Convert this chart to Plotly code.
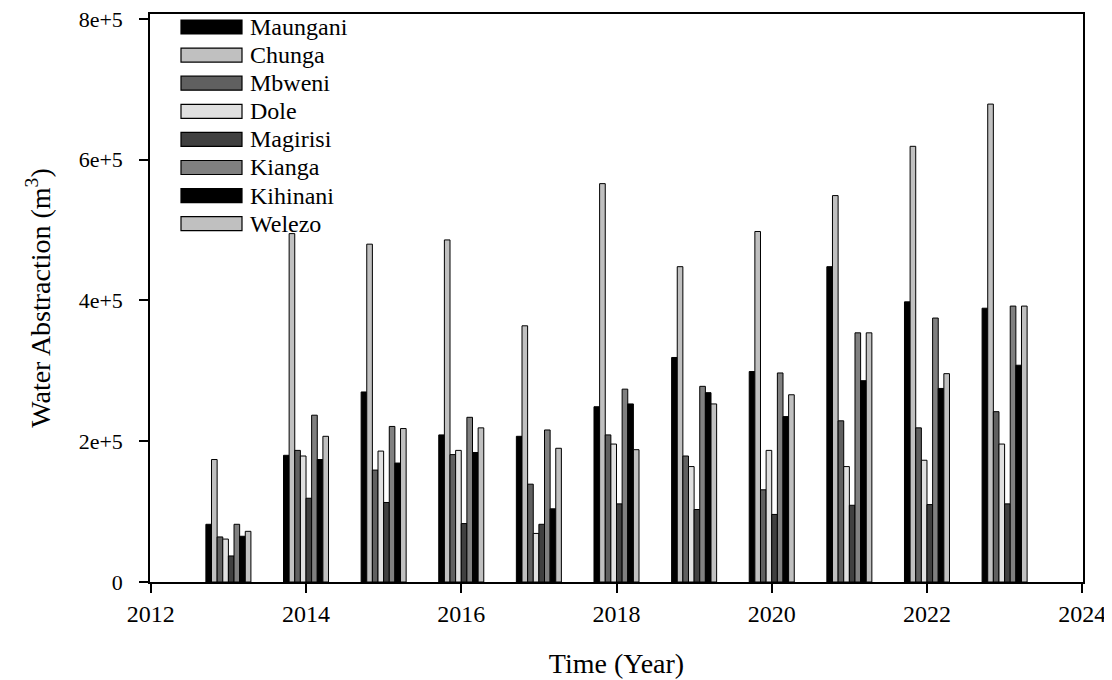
import plotly.graph_objects as go

years = [2013, 2014, 2015, 2016, 2017, 2018, 2019, 2020, 2021, 2022, 2023]
series_names = ["Maungani", "Chunga", "Mbweni", "Dole", "Magirisi", "Kianga", "Kihinani", "Welezo"]
maungani = [82000, 180000, 270000, 209000, 207000, 249000, 319000, 299000, 448000, 398000, 389000]
chunga = [174000, 495000, 480000, 486000, 364000, 566000, 448000, 498000, 549000, 619000, 679000]
mbweni = [64000, 187000, 159000, 181000, 139000, 209000, 179000, 131000, 229000, 219000, 242000]
dole = [61000, 179000, 186000, 187000, 69000, 196000, 164000, 187000, 164000, 173000, 196000]
magirisi = [37000, 119000, 113000, 83000, 82000, 111000, 103000, 96000, 109000, 110000, 111000]
kianga = [82000, 237000, 221000, 234000, 216000, 274000, 278000, 297000, 354000, 375000, 392000]
kihinani = [65000, 174000, 169000, 184000, 104000, 253000, 269000, 235000, 286000, 275000, 308000]
welezo = [72000, 207000, 218000, 219000, 190000, 188000, 253000, 266000, 354000, 296000, 392000]
series_values = [maungani, chunga, mbweni, dole, magirisi, kianga, kihinani, welezo]
series_colors = ["#000000", "#c0c0c0", "#606060", "#e0e0e0", "#404040", "#808080", "#000000", "#c0c0c0"]

x_tick_vals = [2012, 2014, 2016, 2018, 2020, 2022, 2024]
x_tick_text = ["2012", "2014", "2016", "2018", "2020", "2022", "2024"]
y_tick_vals = [0, 200000, 400000, 600000, 800000]
y_tick_text = ["0", "2e+5", "4e+5", "6e+5", "8e+5"]

FONT = "Liberation Serif"
OFF = 8  # page body margin offset
W, H = 1112 - OFF, 680 - OFF
ML, MR, MT, MB = 150 - OFF, 29, 14 - OFF, 98
PW, PH = W - ML - MR, H - MT - MB

fig = go.Figure()
for name, vals, col in zip(series_names, series_values, series_colors):
    fig.add_trace(go.Bar(
        x=years, y=vals, name=name,
        marker=dict(color=col, line=dict(color="black", width=1)),
        showlegend=False,
    ))

# custom legend (wide swatches like the original); coords are screen pixels
def px_x(p):
    return (p - OFF - ML) / PW

def px_y(p):
    return (OFF + H - MB - p) / PH

legend_top = 27
row = 28.1
for i, (name, col) in enumerate(zip(series_names, series_colors)):
    yc = legend_top + i * row
    fig.add_shape(type="rect", xref="paper", yref="paper",
                  x0=px_x(181), x1=px_x(242), y0=px_y(yc + 7), y1=px_y(yc - 7),
                  fillcolor=col, line=dict(color="black", width=1.2))
    fig.add_annotation(xref="paper", yref="paper", x=px_x(248), y=px_y(yc),
                       text=name, showarrow=False, xanchor="left", yanchor="middle",
                       font=dict(family=FONT, size=24, color="black"))

fig.update_layout(
    width=W, height=H,
    margin=dict(l=ML, r=MR, t=MT, b=MB, autoexpand=False),
    paper_bgcolor="white", plot_bgcolor="white",
    barmode="group", bargap=0.42, bargroupgap=0,
    font=dict(family=FONT, color="black"),
)
fig.update_xaxes(
    range=[2011.99, 2024.01], tickvals=x_tick_vals, ticktext=x_tick_text,
    ticks="outside", ticklen=9, tickwidth=1.5, tickcolor="black",
    showline=True, linecolor="black", linewidth=1.5, mirror=True,
    showgrid=False, zeroline=False, automargin=False,
    ticklabeloverflow="allow",
    tickfont=dict(family=FONT, size=24, color="black"),
    title=dict(text="Time (Year)", font=dict(family=FONT, size=28, color="black"), standoff=28),
)
fig.update_yaxes(
    range=[0, 807000], tickvals=y_tick_vals, ticktext=y_tick_text,
    ticks="outside", ticklen=9, tickwidth=1.5, tickcolor="black",
    showline=True, linecolor="black", linewidth=1.5, mirror=True,
    showgrid=False, zeroline=False, automargin=False,
    ticklabeloverflow="allow", ticklabelstandoff=12,
    tickfont=dict(family=FONT, size=22, color="black"),
    title=dict(text="Water Abstraction (m<sup>3</sup>)", font=dict(family=FONT, size=28, color="black"), standoff=20),
)

fig.write_html("out.html")
